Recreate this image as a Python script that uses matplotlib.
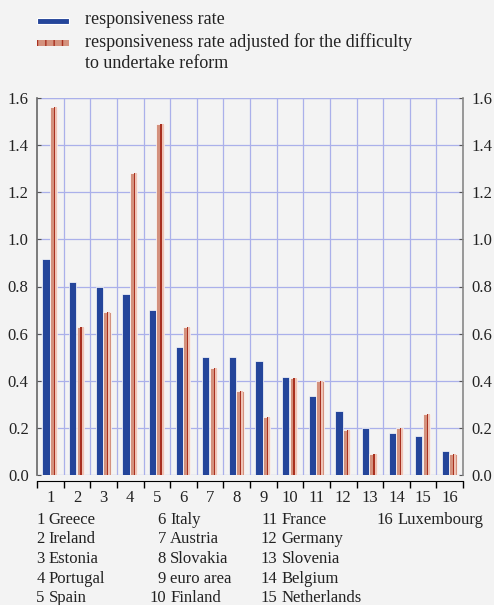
import matplotlib
matplotlib.use("Agg")
import matplotlib.pyplot as plt
from matplotlib.patches import Rectangle
import numpy as np

categories = ["1", "2", "3", "4", "5", "6", "7", "8", "9", "10", "11", "12", "13", "14", "15", "16"]
countries = ["Greece", "Ireland", "Estonia", "Portugal", "Spain", "Italy", "Austria", "Slovakia",
             "euro area", "Finland", "France", "Germany", "Slovenia", "Belgium", "Netherlands", "Luxembourg"]
responsiveness = [0.915, 0.82, 0.80, 0.77, 0.70, 0.545, 0.50, 0.50, 0.485, 0.415, 0.335, 0.27, 0.20, 0.18, 0.165, 0.10]
adjusted = [1.56, 0.63, 0.69, 1.28, 1.49, 0.63, 0.455, 0.355, 0.245, 0.41, 0.40, 0.19, 0.09, 0.20, 0.26, 0.09]
yticks = [0.0, 0.2, 0.4, 0.6, 0.8, 1.0, 1.2, 1.4, 1.6]
legend_lines = ["responsiveness rate", "responsiveness rate adjusted for the difficulty", "to undertake reform"]

BG = "#f3f3f3"
BLUE = "#24459a"
SALMON = "#d4917d"
DARKRED = "#a8301f"
PALE = "#efc3b5"
GRID = "#aab0ea"
TXT = "#222222"

plt.rcParams["font.family"] = ["Liberation Serif", "DejaVu Serif"]
W, H = 494, 605
fig = plt.figure(figsize=(W / 100, H / 100), dpi=100, facecolor=BG)
ax = fig.add_axes([37 / W, 1 - 475 / H, (463 - 37) / W, (475 - 98) / H])
ax.set_facecolor(BG)

n = len(categories)
x = np.arange(n)
ax.bar(x - 0.16, responsiveness, width=0.27, color=BLUE, edgecolor="white", linewidth=0.5, zorder=3)
ax.bar(x + 0.125, adjusted, width=0.28, color=SALMON, edgecolor="white", linewidth=0.5, zorder=3)
ax.bar(x + 0.215, adjusted, width=0.08, color=PALE, linewidth=0, zorder=4)
ax.bar(x + 0.155, adjusted, width=0.045, color=DARKRED, linewidth=0, zorder=4)

ax.set_xlim(-0.5, n - 0.5)
ax.set_ylim(0, 1.6)
ax.set_yticks(yticks)
ax.set_yticklabels([f"{v:.1f}" for v in yticks])
ax.yaxis.grid(True, color=GRID, linewidth=0.9, zorder=0)
for b in np.arange(-0.5, n, 1.0)[1:-1]:
    ax.axvline(b, color=GRID, linewidth=0.9, zorder=0)
ax.axhline(1.6, color=GRID, linewidth=0.9, zorder=0)

ax.tick_params(axis="y", which="both", labelsize=12, direction="in", length=3, color="#555555",
               left=True, right=True, labelleft=True, labelright=True, pad=6, labelcolor=TXT)
ax.set_xticks(x)
ax.set_xticklabels(categories)
ax.tick_params(axis="x", length=0, labelsize=12, pad=7, labelcolor=TXT)
ax.set_xticks(np.arange(-0.5, n, 1.0), minor=True)
ax.tick_params(axis="x", which="minor", length=5, direction="out", color="black", width=1)

ax.spines["top"].set_visible(False)
ax.spines["left"].set_color("#666666")
ax.spines["right"].set_color("#888888")
ax.spines["left"].set_linewidth(1.2)
ax.spines["right"].set_linewidth(1.2)
ax.spines["bottom"].set_position(("outward", 4))
ax.spines["bottom"].set_color("black")

# legend (manual)
fig.add_artist(Rectangle((37 / W, 1 - 24 / H), 32 / W, 6 / H, transform=fig.transFigure,
                         facecolor=BLUE, edgecolor="white", linewidth=0.8))
fig.add_artist(Rectangle((37 / W, 1 - 46 / H), 32 / W, 6 / H, transform=fig.transFigure,
                         facecolor=SALMON, edgecolor=DARKRED, linewidth=0, hatch="||"))
for txt, yy in zip(legend_lines, [20, 42, 63]):
    fig.text(85 / W, 1 - yy / H, txt, fontsize=13, va="center", ha="left", color=TXT)

# country key
col_num_right = [44.5, 166, 277.5, 393]
row_y = [520, 539, 559, 579, 598]
for i, name in enumerate(countries):
    col, row = divmod(i, 5)
    xr = col_num_right[col]
    y = 1 - row_y[row] / H
    fig.text(xr / W, y, categories[i], fontsize=12, ha="right", va="center", color=TXT)
    fig.text((xr + 4.2) / W, y, name, fontsize=12, ha="left", va="center", color=TXT)

fig.savefig("out.png", dpi=100, facecolor=BG)
